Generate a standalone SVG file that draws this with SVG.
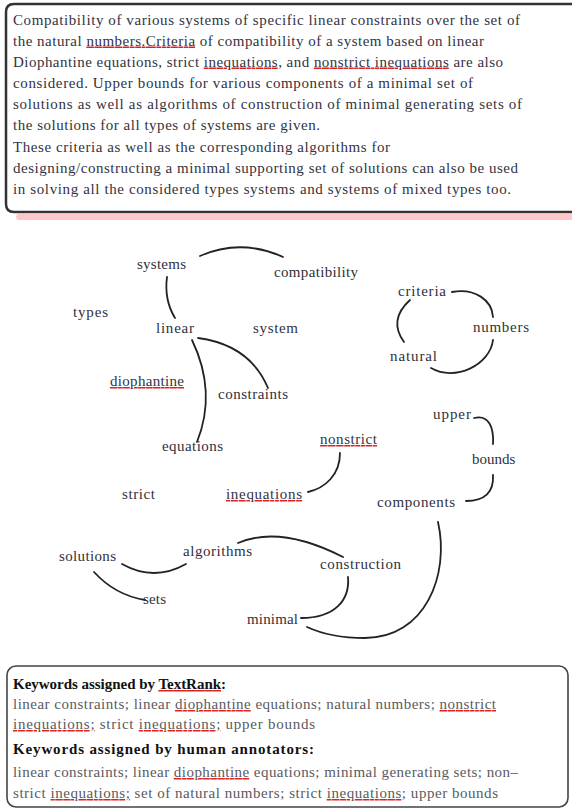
<svg xmlns="http://www.w3.org/2000/svg" width="572" height="809" viewBox="0 0 572 809">
<defs>
<style>
.body{font-family:"Liberation Serif","Times New Roman",serif;font-size:15px;fill:#333340}
.kw{font-family:"Liberation Serif","Times New Roman",serif;font-size:15px;fill:#5a5a60}
.hd{font-family:"Liberation Serif","Times New Roman",serif;font-size:15px;font-weight:bold;fill:#111}
.node text{font-family:"Liberation Serif","Times New Roman",serif;font-size:15px;fill:#30303c}
.edge{fill:none;stroke:#222;stroke-width:1.8;stroke-linecap:round}
.sp{text-decoration:underline wavy;fill:#e02020}
.b{fill:#333340}
.g{fill:#5a5a60}
.k{fill:#111}
</style>
</defs>
<rect width="572" height="809" fill="#ffffff"/>

<!-- abstract box -->
<g id="abstract">
<rect x="16" y="214" width="560" height="6" rx="3" fill="#ffc8c8"/>
<path d="M576,4 H14 Q6,4 6,12 V204 Q6,212 14,212 H576" fill="#ffffff" stroke="#333" stroke-width="2.5"/>
<text class="body" x="13" y="24.5" textLength="507" lengthAdjust="spacing">Compatibility of various systems of specific linear constraints over the set of</text>
<text class="body" x="13" y="45.5" textLength="471" lengthAdjust="spacing">the natural <tspan class="sp"><tspan class="b">numbers.Criteria</tspan></tspan> of compatibility of a system based on linear</text>
<text class="body" x="13" y="66.5" textLength="490" lengthAdjust="spacing">Diophantine equations, strict <tspan class="sp"><tspan class="b">inequations,</tspan></tspan> and <tspan class="sp"><tspan class="b">nonstrict inequations</tspan></tspan> are also</text>
<text class="body" x="13" y="87.5" textLength="460" lengthAdjust="spacing">considered. Upper bounds for various components of a minimal set of</text>
<text class="body" x="13" y="108.5" textLength="509" lengthAdjust="spacing">solutions as well as algorithms of construction of minimal generating sets of</text>
<text class="body" x="13" y="130" textLength="307" lengthAdjust="spacing">the solutions for all types of systems are given.</text>
<text class="body" x="13" y="151.5" textLength="377" lengthAdjust="spacing">These criteria as well as the corresponding algorithms for</text>
<text class="body" x="13" y="173" textLength="505" lengthAdjust="spacing">designing/constructing a minimal supporting set of solutions can also be used</text>
<text class="body" x="13" y="194" textLength="498" lengthAdjust="spacing">in solving all the considered types systems and systems of mixed types too.</text>
</g>

<!-- connectors -->
<g id="connectors">
<path class="edge" d="M200,256 Q241,238 283,257"/>
<path class="edge" d="M167,277 Q164,300 175,318"/>
<path class="edge" d="M198,338 Q250,345 268,388"/>
<path class="edge" d="M192,340 Q217,392 197,442"/>
<path class="edge" d="M452,292 C475,288 492,300 493,317"/>
<path class="edge" d="M410,300 Q388,320 404,342"/>
<path class="edge" d="M493,340 C490,365 455,382 431,368"/>
<path class="edge" d="M474,418 C489,414 494,428 493,444"/>
<path class="edge" d="M493,475 C494,492 485,501 466,501"/>
<path class="edge" d="M340,453 C340,475 325,488 308,492"/>
<path class="edge" d="M438,522 C450,575 425,638 365,638 C340,638 320,633 307,627"/>
<path class="edge" d="M301,618 C335,618 350,600 348,577"/>
<path class="edge" d="M238,543 Q280,525 343,557"/>
<path class="edge" d="M122,564 Q154,582 186,564"/>
<path class="edge" d="M94,572 Q115,595 145,600"/>
</g>

<!-- nodes -->
<g id="n-systems" class="node"><text x="137" y="269" textLength="49" lengthAdjust="spacing">systems</text></g>
<g id="n-compatibility" class="node"><text x="274" y="277" textLength="84" lengthAdjust="spacing">compatibility</text></g>
<g id="n-types" class="node"><text x="73" y="317" textLength="35" lengthAdjust="spacing">types</text></g>
<g id="n-linear" class="node"><text x="156" y="333" textLength="38" lengthAdjust="spacing">linear</text></g>
<g id="n-system" class="node"><text x="253" y="333" textLength="45" lengthAdjust="spacing">system</text></g>
<g id="n-criteria" class="node"><text x="398" y="296" textLength="48" lengthAdjust="spacing">criteria</text></g>
<g id="n-numbers" class="node"><text x="473" y="332" textLength="56" lengthAdjust="spacing">numbers</text></g>
<g id="n-natural" class="node"><text x="390" y="361" textLength="47" lengthAdjust="spacing">natural</text></g>
<g id="n-diophantine" class="node"><text x="110" y="386" textLength="74" lengthAdjust="spacing"><tspan class="sp"><tspan class="b">diophantine</tspan></tspan></text></g>
<g id="n-constraints" class="node"><text x="218" y="399" textLength="70" lengthAdjust="spacing">constraints</text></g>
<g id="n-upper" class="node"><text x="433" y="419" textLength="38" lengthAdjust="spacing">upper</text></g>
<g id="n-nonstrict" class="node"><text x="320" y="444" textLength="57" lengthAdjust="spacing"><tspan class="sp"><tspan class="b">nonstrict</tspan></tspan></text></g>
<g id="n-equations" class="node"><text x="162" y="451" textLength="61" lengthAdjust="spacing">equations</text></g>
<g id="n-bounds" class="node"><text x="472" y="464">bounds</text></g>
<g id="n-strict" class="node"><text x="122" y="499" textLength="33" lengthAdjust="spacing">strict</text></g>
<g id="n-inequations" class="node"><text x="226" y="499" textLength="76" lengthAdjust="spacing"><tspan class="sp"><tspan class="b">inequations</tspan></tspan></text></g>
<g id="n-components" class="node"><text x="377" y="507" textLength="78" lengthAdjust="spacing">components</text></g>
<g id="n-algorithms" class="node"><text x="183" y="556" textLength="69" lengthAdjust="spacing">algorithms</text></g>
<g id="n-solutions" class="node"><text x="59" y="561" textLength="57" lengthAdjust="spacing">solutions</text></g>
<g id="n-construction" class="node"><text x="320" y="569" textLength="81" lengthAdjust="spacing">construction</text></g>
<g id="n-sets" class="node"><text x="143" y="604" textLength="23" lengthAdjust="spacing">sets</text></g>
<g id="n-minimal" class="node"><text x="247" y="624" textLength="51" lengthAdjust="spacing">minimal</text></g>

<!-- keywords box -->
<g id="keywords">
<rect x="7" y="666" width="561" height="141" rx="9" fill="#ffffff" stroke="#444" stroke-width="1.6"/>
<text class="hd" x="13" y="689" textLength="213" lengthAdjust="spacing">Keywords assigned by <tspan class="sp"><tspan class="k">TextRank</tspan></tspan>:</text>
<text class="kw" x="13" y="709" textLength="483" lengthAdjust="spacing">linear constraints; linear <tspan class="sp"><tspan class="g">diophantine</tspan></tspan> equations; natural numbers; <tspan class="sp"><tspan class="g">nonstrict</tspan></tspan></text>
<text class="kw" x="13" y="729" textLength="302" lengthAdjust="spacing"><tspan class="sp"><tspan class="g">inequations;</tspan></tspan> strict <tspan class="sp"><tspan class="g">inequations;</tspan></tspan> upper bounds</text>
<text class="hd" x="13" y="754" textLength="301" lengthAdjust="spacing">Keywords assigned by human annotators:</text>
<text class="kw" x="13" y="777" textLength="505" lengthAdjust="spacing">linear constraints; linear <tspan class="sp"><tspan class="g">diophantine</tspan></tspan> equations; minimal generating sets; non–</text>
<text class="kw" x="13" y="798" textLength="485" lengthAdjust="spacing">strict <tspan class="sp"><tspan class="g">inequations;</tspan></tspan> set of natural numbers; strict <tspan class="sp"><tspan class="g">inequations;</tspan></tspan> upper bounds</text>
</g>
</svg>
